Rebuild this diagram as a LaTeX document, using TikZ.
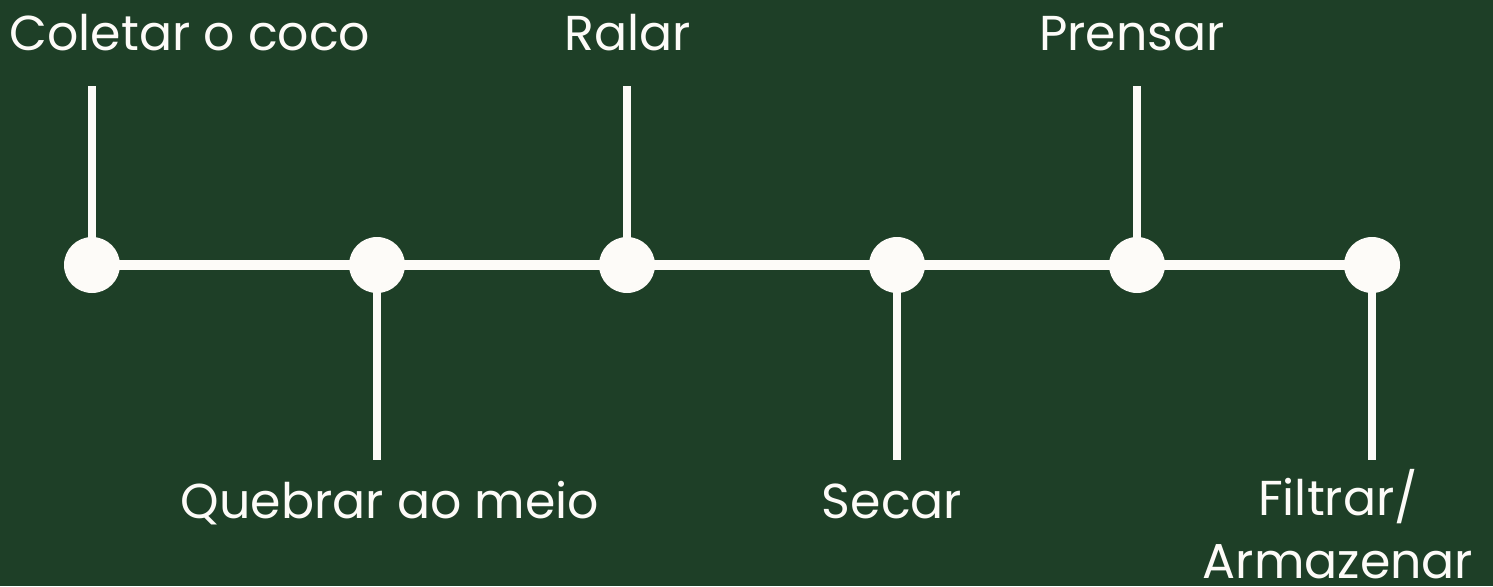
\documentclass[tikz,border=0pt]{standalone}
\usepackage{fontspec}
\setmainfont{Poppins}
\usepackage{tikz}
\usetikzlibrary{positioning,backgrounds}
\usepackage{xcolor}
\definecolor{bgGreen}{RGB}{30,63,39}
\definecolor{offWhite}{RGB}{253,251,248}

\begin{document}
\begin{tikzpicture}[
  x=1pt, y=-1pt,
  dot/.style={circle, fill=offWhite, minimum size=56pt, inner sep=0pt},
  axisline/.style={draw=offWhite, line width=10pt},
  stem/.style={draw=offWhite, line width=8pt},
  steptext/.style={text=offWhite, inner sep=0pt, align=center,
                   font=\fontsize{49}{63}\selectfont}
]
  \useasboundingbox (0,0) rectangle (1493,586);

  % steps on the time line
  \node[dot] (D1) at (92,265)   {};
  \node[dot] (D2) at (377,265)  {};
  \node[dot] (D3) at (627,265)  {};
  \node[dot] (D4) at (897,265)  {};
  \node[dot] (D5) at (1137,265) {};
  \node[dot] (D6) at (1372,265) {};

  % free ends of the stems
  \coordinate (T1) at (92,86);
  \coordinate (B2) at (377,460);
  \coordinate (T3) at (627,86);
  \coordinate (B4) at (897,460);
  \coordinate (T5) at (1137,86);
  \coordinate (B6) at (1372,460);

  \begin{pgfonlayer}{background}
    \fill[bgGreen] (0,0) rectangle (1493,586);
    \draw[axisline] (D1.center) -- (D6.center);
    \foreach \a/\b in {D1/T1, D2/B2, D3/T3, D4/B4, D5/T5, D6/B6}
      \draw[stem] (\a.center) -- (\b);
  \end{pgfonlayer}

  % labels
  \node[steptext, anchor=base] (L1) at (190,51)  {Coletar o coco};
  \node[steptext, anchor=base] (L2) at (390,518) {Quebrar ao meio};
  \node[steptext, anchor=base] (L3) at (628,51)  {Ralar};
  \node[steptext, anchor=base] (L4) at (892,518) {Secar};
  \node[steptext, anchor=base] (L5) at (1132,51) {Prensar};
  \node[steptext, anchor=base] (L6) at (1338,578)
    {Filtrar/\\Armazenar};
\end{tikzpicture}
\end{document}
